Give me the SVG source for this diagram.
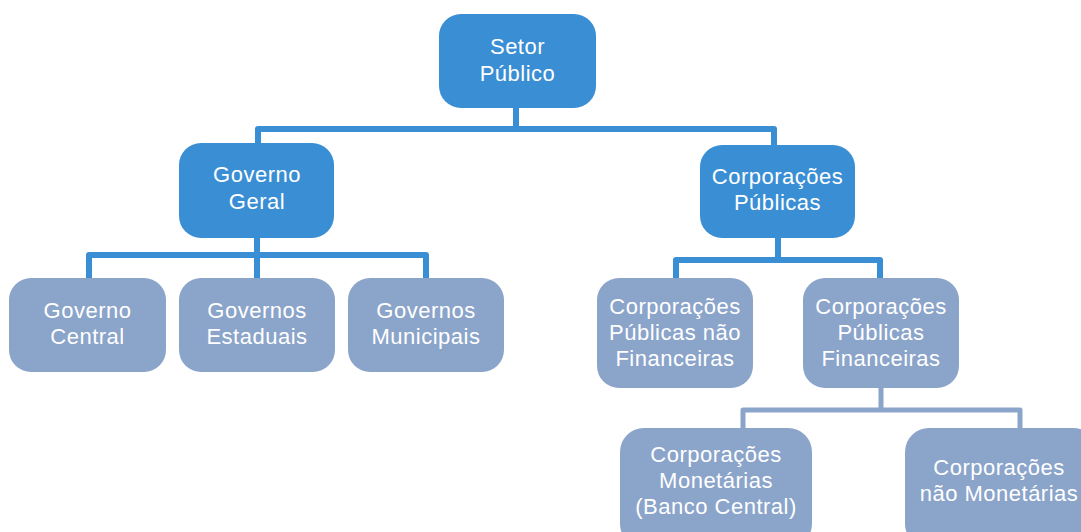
<svg xmlns="http://www.w3.org/2000/svg" width="1081" height="532" viewBox="0 0 1081 532">
<style>
.dk{fill:#3A8ED4}
.lt{fill:#8BA4CA}
.t{font-family:"Liberation Sans",Arial,sans-serif;font-size:22px;letter-spacing:0.5px;fill:#FFFFFF;text-anchor:middle}
.cd{fill:none;stroke:#3A8ED4;stroke-width:6;stroke-linejoin:round}
.cl{fill:none;stroke:#8BA4CA;stroke-width:5;stroke-linejoin:round}
</style>
<rect width="1081" height="532" fill="#FFFFFF"/>
<g id="connectors">
<path class="cd" d="M516,107 V129 M258,143 V129 H774 V146"/>
<path class="cd" d="M257,238 V278 M89,278 V255 H426 V278"/>
<path class="cd" d="M778,238 V260 M676,278 V260 H880 V278"/>
<path class="cl" d="M881,388 V410 M743,428 V410 H1020 V428"/>
</g>
<g id="setor-publico">
<rect class="dk" x="439" y="14" width="157" height="94" rx="22"/>
<text class="t" x="517.5" y="54">Setor</text>
<text class="t" x="517.5" y="81">Público</text>
</g>
<g id="governo-geral">
<rect class="dk" x="179" y="143" width="155" height="95" rx="22"/>
<text class="t" x="257" y="182">Governo</text>
<text class="t" x="257" y="209">Geral</text>
</g>
<g id="corporacoes-publicas">
<rect class="dk" x="700" y="145" width="155" height="93" rx="22"/>
<text class="t" x="777.5" y="184">Corporações</text>
<text class="t" x="777.5" y="210">Públicas</text>
</g>
<g id="governo-central">
<rect class="lt" x="9" y="278" width="157" height="94" rx="22"/>
<text class="t" x="87.5" y="318">Governo</text>
<text class="t" x="87.5" y="344">Central</text>
</g>
<g id="governos-estaduais">
<rect class="lt" x="179" y="278" width="156" height="94" rx="22"/>
<text class="t" x="257" y="318">Governos</text>
<text class="t" x="257" y="344">Estaduais</text>
</g>
<g id="governos-municipais">
<rect class="lt" x="348" y="278" width="156" height="94" rx="22"/>
<text class="t" x="426" y="318">Governos</text>
<text class="t" x="426" y="344">Municipais</text>
</g>
<g id="cp-nao-financeiras">
<rect class="lt" x="597" y="278" width="156" height="110" rx="22"/>
<text class="t" x="675" y="314">Corporações</text>
<text class="t" x="675" y="340">Públicas não</text>
<text class="t" x="675" y="366">Financeiras</text>
</g>
<g id="cp-financeiras">
<rect class="lt" x="803" y="278" width="156" height="110" rx="22"/>
<text class="t" x="881" y="314">Corporações</text>
<text class="t" x="881" y="340">Públicas</text>
<text class="t" x="881" y="366">Financeiras</text>
</g>
<g id="corporacoes-monetarias">
<rect class="lt" x="620" y="428" width="192" height="120" rx="24"/>
<text class="t" x="716" y="462">Corporações</text>
<text class="t" x="716" y="488">Monetárias</text>
<text class="t" x="716" y="514">(Banco Central)</text>
</g>
<g id="corporacoes-nao-monetarias">
<rect class="lt" x="905" y="428" width="192" height="120" rx="24"/>
<text class="t" x="999" y="475">Corporações</text>
<text class="t" x="999" y="501">não Monetárias</text>
</g>
</svg>
